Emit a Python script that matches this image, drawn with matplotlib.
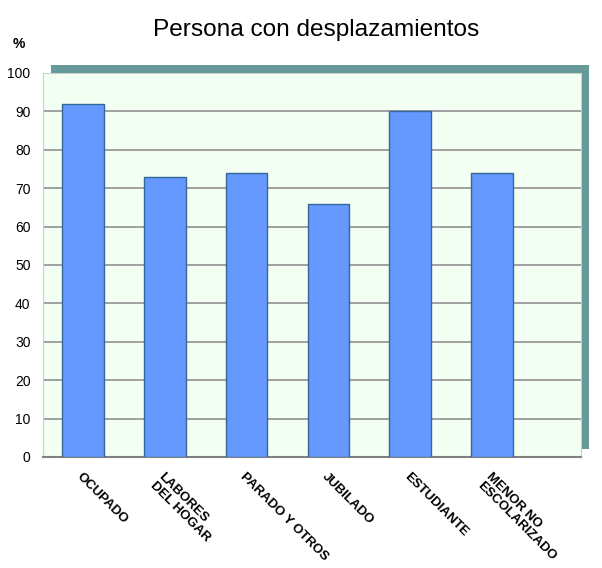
import matplotlib.pyplot as plt
from matplotlib.patches import Rectangle

categories = ["OCUPADO", "LABORES\nDEL HOGAR", "PARADO Y OTROS", "JUBILADO",
              "ESTUDIANTE", "MENOR NO\nESCOLARIZADO"]
values = [92, 73, 74, 66, 90, 74]
yticks = list(range(0, 101, 10))

plt.rcParams['font.family'] = ['Liberation Sans', 'DejaVu Sans']

W, H = 602, 568
fig = plt.figure(figsize=(W / 100, H / 100), dpi=100)

# plot area in pixels (left, top, right, bottom)
L, T, R, B = 43, 73, 581, 457
ax = fig.add_axes([L / W, 1 - B / H, (R - L) / W, (B - T) / H])

# teal "3d" shadow behind the plot area
shadow = Rectangle(((L + 8) / W, 1 - (B - 8) / H), (R - L) / W, (B - T) / H,
                   transform=fig.transFigure, facecolor='#669999',
                   edgecolor='none', zorder=-1)
fig.patches.append(shadow)

ax.set_facecolor('#F2FFF2')
x = range(len(categories))
ax.bar(x, values, width=0.51, color='#6699FF', edgecolor='#336699',
       linewidth=1.0, zorder=3)

ax.set_ylim(0, 100)
ax.set_xlim(-0.49, 6.09)
ax.set_yticks(yticks)
ax.yaxis.grid(True, color='#999999', linewidth=1.3, zorder=1)
ax.set_axisbelow(True)
ax.tick_params(axis='y', length=0, pad=9, labelsize=10)
ax.tick_params(axis='x', length=0, pad=10)
ax.set_xticks(list(x))
ax.set_xticklabels(categories, rotation=-45, ha='left', rotation_mode='anchor',
                   fontsize=9.5, fontweight='bold', linespacing=1.0)

for side in ['left', 'top', 'right']:
    ax.spines[side].set_color('#C8D2C8')
    ax.spines[side].set_linewidth(0.8)
ax.spines['bottom'].set_color('#808080')
ax.spines['bottom'].set_linewidth(1.5)

fig.text(316 / W, 1 - 36 / H, "Persona con desplazamientos", ha='center',
         va='baseline', fontsize=17.6)
fig.text(19 / W, 1 - 48 / H, "%", ha='center', va='baseline', fontsize=10,
         fontweight='bold')

fig.savefig("out.png", dpi=100)
